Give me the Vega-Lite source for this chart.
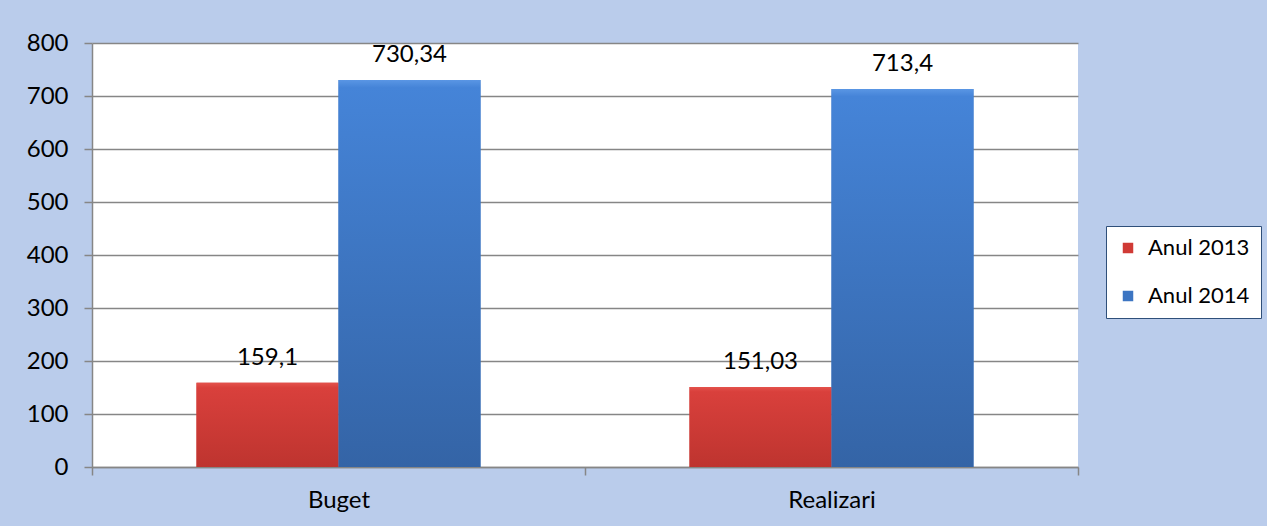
{
  "$schema": "https://vega.github.io/schema/vega-lite/v6.json",
  "width": 986,
  "height": 424,
  "autosize": {"type": "none"},
  "padding": {"left": 92, "top": 43, "right": 189, "bottom": 59},
  "background": "#BACCEB",
  "config": {
    "view": {"fill": "white", "stroke": null},
    "font": "Lato",
    "locale": {"number": {"decimal": ",", "thousands": ".", "grouping": [3], "currency": ["", " lei"]}}
  },
  "data": {
    "values": [
      {"categorie": "Buget", "serie": "Anul 2013", "valoare": 159.1},
      {"categorie": "Buget", "serie": "Anul 2014", "valoare": 730.34},
      {"categorie": "Realizari", "serie": "Anul 2013", "valoare": 151.03},
      {"categorie": "Realizari", "serie": "Anul 2014", "valoare": 713.4}
    ]
  },
  "encoding": {
    "x": {
      "field": "categorie",
      "type": "nominal",
      "sort": ["Buget", "Realizari"],
      "scale": {"paddingInner": 0, "paddingOuter": 0},
      "axis": {
        "title": null,
        "labelAngle": 0,
        "labelFontSize": 24,
        "labelColor": "#000000",
        "labelPadding": 13,
        "tickBand": "extent",
        "tickSize": 8,
        "tickColor": "#868686",
        "tickWidth": 1.5,
        "domainColor": "#868686",
        "domainWidth": 1.5,
        "grid": false
      }
    },
    "y": {
      "field": "valoare",
      "type": "quantitative",
      "scale": {"domain": [0, 800], "nice": false},
      "axis": {
        "title": null,
        "values": [0, 100, 200, 300, 400, 500, 600, 700, 800],
        "format": "d",
        "labelFontSize": 24,
        "labelColor": "#000000",
        "labelPadding": 16,
        "tickSize": 8,
        "tickColor": "#868686",
        "tickWidth": 1.5,
        "domainColor": "#868686",
        "domainWidth": 1.5,
        "gridColor": "#868686",
        "gridWidth": 1.5
      }
    },
    "xOffset": {
      "field": "serie",
      "type": "nominal",
      "sort": ["Anul 2013", "Anul 2014"],
      "scale": {"paddingInner": 0, "paddingOuter": 0.736}
    }
  },
  "layer": [
    {
      "mark": {"type": "bar"},
      "encoding": {
        "color": {
          "field": "serie",
          "type": "nominal",
          "scale": {"domain": ["Anul 2013", "Anul 2014"], "range": ["#D03A35", "#3C75C2"]},
          "legend": {
            "title": null,
            "orient": "none",
            "legendX": 1014,
            "legendY": 183,
            "labelFontSize": 22,
            "labelColor": "#000000",
            "symbolType": "square",
            "symbolSize": 110,
            "symbolStrokeWidth": 0,
            "symbolOffset": 0,
            "labelOffset": 9,
            "padding": 11,
            "rowPadding": 26,
            "strokeColor": "#2F4F7A",
            "fillColor": "#FFFFFF"
          }
        }
      }
    },
    {
      "mark": {"type": "bar"},
      "encoding": {
        "color": {
          "condition": {
            "test": "datum.serie === 'Anul 2013'",
            "value": {
              "gradient": "linear", "x1": 0, "y1": 0, "x2": 0, "y2": 1,
              "stops": [
                {"offset": 0, "color": "#E4524C"},
                {"offset": 0.06, "color": "#D9403C"},
                {"offset": 1, "color": "#BE342F"}
              ]
            }
          },
          "value": {
            "gradient": "linear", "x1": 0, "y1": 0, "x2": 0, "y2": 1,
            "stops": [
              {"offset": 0, "color": "#5A96E4"},
              {"offset": 0.02, "color": "#4584D8"},
              {"offset": 1, "color": "#3464A6"}
            ]
          }
        }
      }
    },
    {
      "mark": {"type": "text", "dy": -25, "fontSize": 24, "color": "#000000"},
      "encoding": {
        "text": {"field": "valoare", "type": "quantitative", "format": ".2~f"}
      }
    }
  ]
}
